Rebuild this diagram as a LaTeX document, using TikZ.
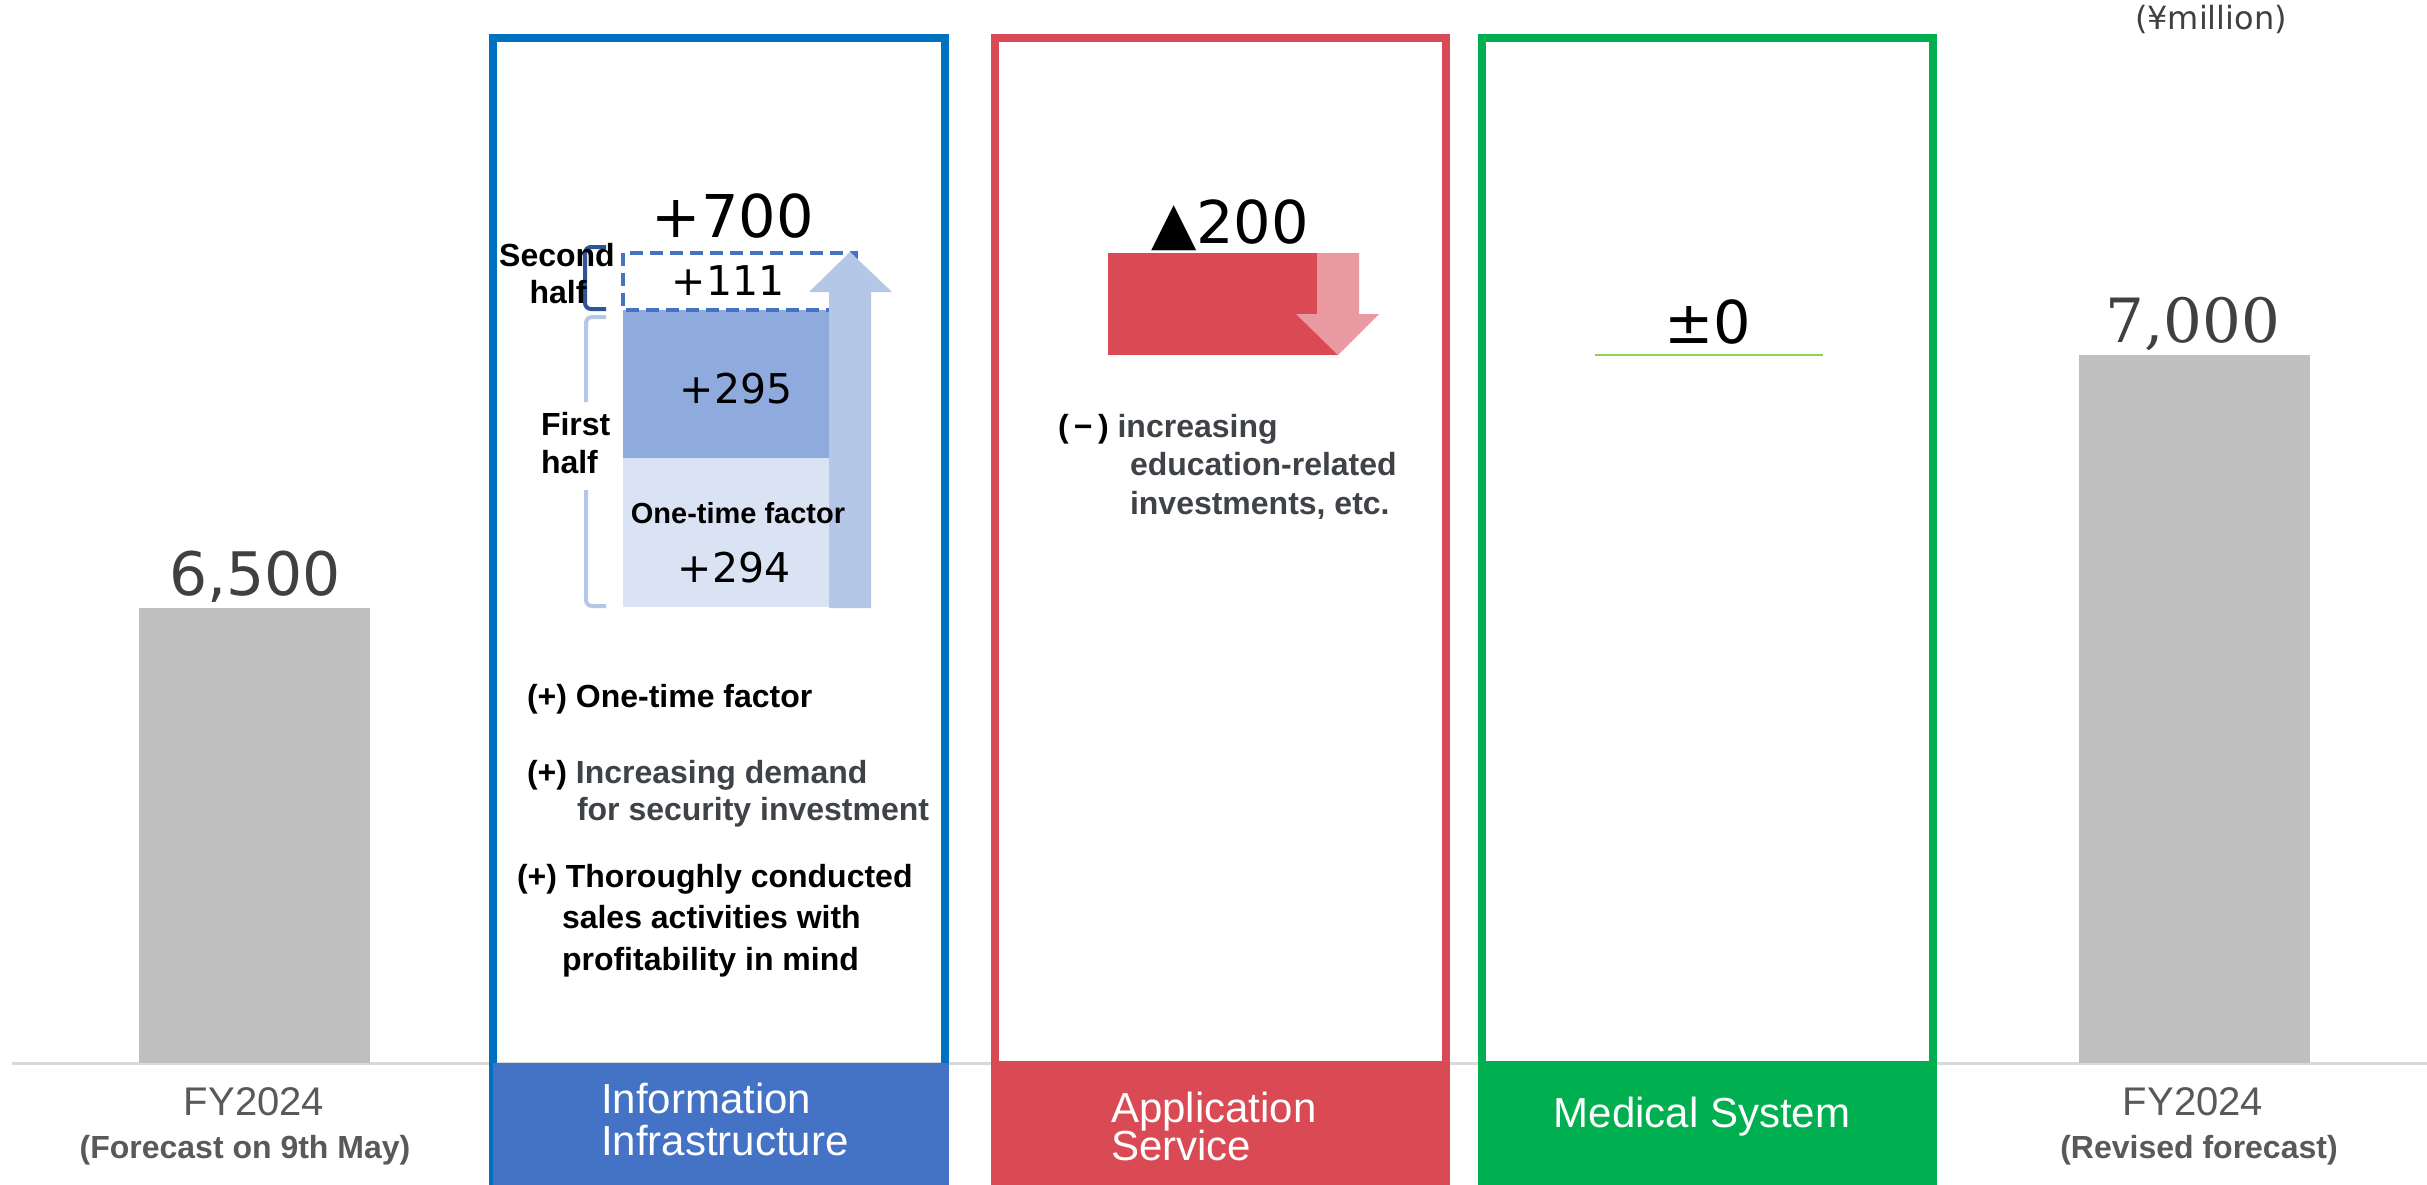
\documentclass[tikz,border=0pt]{standalone}
\usepackage{fontspec}
\setmainfont{Liberation Sans}
\newfontfamily\numf{DejaVu Sans}
\newfontfamily\serf{DejaVu Serif}
\definecolor{blueline}{HTML}{0070C0}
\definecolor{bluefill}{HTML}{4472C4}
\definecolor{redc}{HTML}{DA4A55}
\definecolor{redlight}{HTML}{E99AA0}
\definecolor{greenc}{HTML}{00B050}
\definecolor{greenline}{HTML}{92D050}
\definecolor{barg}{HTML}{BFBFBF}
\definecolor{baseg}{HTML}{D9D9D9}
\definecolor{midblue}{HTML}{8FAADC}
\definecolor{paleblue}{HTML}{DAE3F3}
\definecolor{arrowblue}{HTML}{B4C7E7}
\definecolor{brackdark}{HTML}{2F5597}
\definecolor{txtg}{HTML}{404040}
\definecolor{labg}{HTML}{595959}
\definecolor{bodyg}{HTML}{3F4348}
\begin{document}
\begin{tikzpicture}[x=1pt,y=-1pt,
  txt/.style={inner sep=0pt, outer sep=0pt, anchor=base},
  txtw/.style={inner sep=0pt, outer sep=0pt, anchor=base west},
  bignum/.style={txt, font=\numf\fontsize{59}{70}\selectfont},
  midnum/.style={txt, font=\numf\fontsize{41}{48}\selectfont},
  boldtxt/.style={txtw, font=\bfseries\fontsize{32}{38}\selectfont},
  boldc/.style={txt, font=\bfseries\fontsize{32}{38}\selectfont},
  whitelab/.style={txtw, text=white, font=\fontsize{42}{50}\selectfont},
  fylab/.style={txt, text=labg, font=\fontsize{40}{48}\selectfont},
  fysub/.style={txt, text=labg, font=\bfseries\fontsize{32}{38}\selectfont},
  frame/.style={line width=8pt, line join=miter}
]
\useasboundingbox (0,0) rectangle (2427,1185);
\fill[white] (0,0) rectangle (2427,1185);

% baseline
\draw[baseg, line width=3pt] (12,1063) -- (2427,1063);

% grey bars
\fill[barg] (139,608) rectangle (370,1063);
\fill[barg] (2079,355) rectangle (2310,1063);
\node[txt, text=txtg, font=\numf\fontsize{60}{72}\selectfont] (v6500) at (255,595) {6,500};
\node[txt, text=txtg, font=\serf\fontsize{61}{72}\selectfont] (v7000) at (2193,342) {7,000};
\node[txt, text=txtg, font=\numf\fontsize{32}{38}\selectfont] (unit) at (2211,30) {(¥million)};

% segment frames
\draw[frame, blueline] (493,1190) -- (493,38) -- (945,38) -- (945,1190);
\fill[bluefill] (493,1063) rectangle (949,1190);
\draw[frame, redc] (995,1190) -- (995,38) -- (1446,38) -- (1446,1190);
\fill[redc] (991,1061) rectangle (1450,1190);
\draw[frame, greenc] (1482,1190) -- (1482,38) -- (1933,38) -- (1933,1190);
\fill[greenc] (1478,1061) rectangle (1937,1190);

% information infrastructure stack
\fill[paleblue] (623,458) rectangle (829,607);
\fill[midblue] (623,310) rectangle (829,458);
\draw[bluefill, line width=4pt, dash pattern=on 13pt off 7pt] (623,253) rectangle (856,310);
\fill[arrowblue] (829,608) -- (829,292) -- (809,292) -- (850,252) -- (892,292) -- (871,292) -- (871,608) -- cycle;
\draw[brackdark, line width=4pt, rounded corners=6pt] (606,247) -- (585,247) -- (585,309) -- (606,309);
\draw[arrowblue, line width=4pt, rounded corners=6pt] (606,317) -- (586,317) -- (586,402);
\draw[arrowblue, line width=4pt, rounded corners=6pt] (586,490) -- (586,606) -- (606,606);

\node[bignum] (p700) at (733,237) {+700};
\node[midnum] (p111) at (728,295) {+111};
\node[midnum] (p295) at (736,403) {+295};
\node[midnum] (p294) at (734,582) {+294};
\node[txt, font=\bfseries\fontsize{29}{34}\selectfont] (otf) at (738,523) {One-time factor};
\node[boldc] (sec1) at (557,266) {Second};
\node[boldc] (sec2) at (558,303) {half};
\node[boldtxt] (fir1) at (541,435) {First};
\node[boldtxt] (fir2) at (541,473) {half};

\node[boldtxt] (b1) at (527,707) {(+) One-time factor};
\node[boldtxt] (b2a) at (527,783) {(+) \textcolor{bodyg}{Increasing demand}};
\node[boldtxt, text=bodyg] (b2b) at (577,820) {for security investment};
\node[boldtxt] (b3a) at (517,887) {(+) Thoroughly conducted};
\node[boldtxt] (b3b) at (562,928) {sales activities with};
\node[boldtxt] (b3c) at (562,970) {profitability in mind};

% application service
\fill[redc] (1108,253) rectangle (1338,355);
\fill[redlight] (1317,253) -- (1359,253) -- (1359,314) -- (1379,314) -- (1338,355) -- (1296,314) -- (1317,314) -- cycle;
\node[bignum] (m200) at (1230,243) {▲200};
\node[boldtxt] (r1) at (1058,437) {(\,−\,) \textcolor{bodyg}{increasing}};
\node[boldtxt, text=bodyg] (r2) at (1130,475) {education-related};
\node[boldtxt, text=bodyg] (r3) at (1130,514) {investments, etc.};

% medical system
\node[bignum] (pm0) at (1708,343) {±0};
\draw[greenline, line width=1.5pt] (1595,355) -- (1823,355);

% bottom labels
\node[fylab] (fyl) at (254,1115) {FY2024};
\node[fysub] (fyls) at (245,1158) {(Forecast on 9th May)};
\node[whitelab] (ii1) at (601,1113) {Information};
\node[whitelab] (ii2) at (601,1155) {Infrastructure};
\node[whitelab] (as1) at (1111,1122) {Application};
\node[whitelab] (as2) at (1111,1160) {Service};
\node[txt, text=white, font=\fontsize{42}{50}\selectfont] (ms) at (1702,1127) {Medical System};
\node[fylab] (fyr) at (2193,1115) {FY2024};
\node[fysub] (fyrs) at (2199,1158) {(Revised forecast)};
\end{tikzpicture}
\end{document}
